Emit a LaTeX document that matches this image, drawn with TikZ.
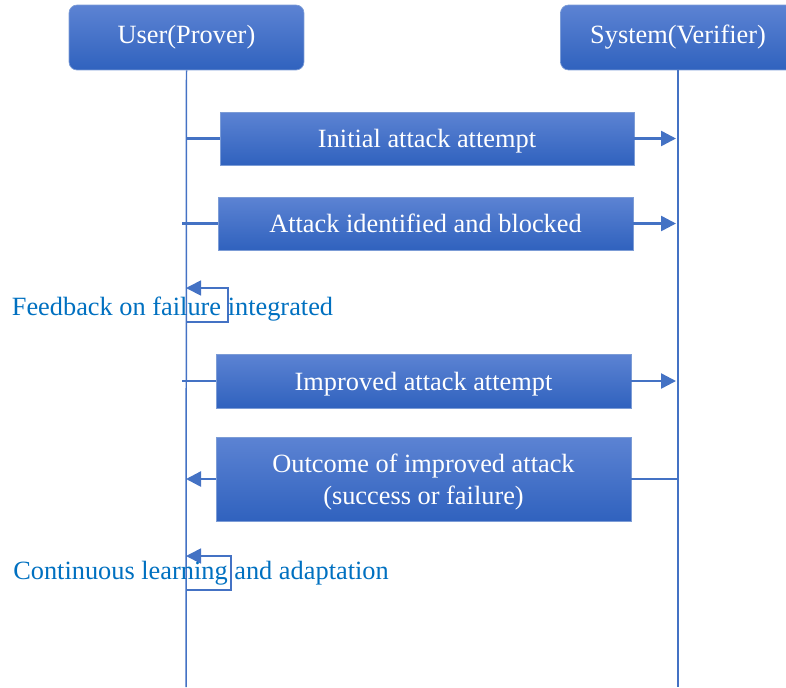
\documentclass[tikz,border=0pt]{standalone}
\usepackage{fontspec}
\setmainfont{Liberation Serif}
\usepackage{tikz}
\usetikzlibrary{arrows.meta,calc,positioning}
\usepackage{xcolor}
\definecolor{linkblue}{HTML}{4472C4}
\definecolor{boxtop}{HTML}{5C83D3}
\definecolor{boxbottom}{HTML}{3062BE}
\definecolor{notecolor}{HTML}{0070C0}
\tikzset{
  actor/.style={rounded corners=0.16cm,draw=linkblue!70,top color=boxtop,bottom color=boxbottom,
    text=white,minimum width=4.7cm,minimum height=1.3cm,font=\fontsize{15}{18}\selectfont},
  msgbox/.style={draw=linkblue!70,top color=boxtop,bottom color=boxbottom,text=white,
    minimum width=8.3cm,minimum height=1.07cm,align=center,font=\fontsize{15}{18}\selectfont,
    text height=12pt,text depth=1.2pt},
  lifeline/.style={linkblue,line width=0.85pt},
  msgline/.style={linkblue,line width=1.4pt},
  selfloop/.style={linkblue,line width=1pt},
  note/.style={text=notecolor,font=\fontsize{15}{18}\selectfont,inner sep=0pt,anchor=base}
}
\begin{document}
\begin{tikzpicture}[>={Triangle[width=0.3cm,length=0.3cm]},x=0.02cm,y=-0.02cm]
  \useasboundingbox (0,0) rectangle (786,687);
  \clip (0,0) rectangle (786,687);
  \node[actor] (user) at (186.5,37.5) {User(Prover)};
  \node[actor] (system) at (678,37.5) {System(Verifier)};
  \coordinate (userend) at (186,687);
  \coordinate (sysend) at (678,687);
  \draw[lifeline] (user.south) -- (userend);
  \draw[lifeline] (system.south) -- (sysend);

  \node[msgbox,minimum width=8.28cm,minimum height=1.06cm] (initial) at (427,138.5) {Initial attack attempt};
  \node[msgbox,minimum height=1.06cm] (blocked) at (425.5,223.5) {Attack identified and blocked};
  \node[msgbox,minimum height=1.08cm] (improved) at (423.5,381) {Improved attack attempt};
  \node[msgbox,minimum height=1.68cm,text height=,text depth=0pt] (outcome) at (423.5,479) {Outcome of improved attack\\(success or failure)};

  \draw[msgline] (initial.west -| userend) -- (initial.west);
  \draw[msgline,->] (initial.east) -- ($(initial.east -| sysend)+(-2,0)$);
  \draw[msgline] ($(blocked.west -| userend)+(-4,0)$) -- (blocked.west);
  \draw[msgline,->] (blocked.east) -- ($(blocked.east -| sysend)+(-2,0)$);
  \draw[msgline] ($(improved.west -| userend)+(-4,0)$) -- (improved.west);
  \draw[msgline,->] (improved.east) -- ($(improved.east -| sysend)+(-2,0)$);
  \draw[msgline] (outcome.east -| sysend) -- (outcome.east);
  \draw[msgline,->] (outcome.west) -- (outcome.west -| userend);

  \coordinate (fbout) at (186,322);
  \coordinate (fbin) at (186,288);
  \draw[selfloop,->] (fbout) -- ++(42,0) |- (fbin);
  \node[note] (feedback) at (172.5,315) {Feedback on failure integrated};

  \coordinate (learnout) at (186,590);
  \coordinate (learnin) at (186,556);
  \draw[selfloop,->] (learnout) -- ++(45,0) |- (learnin);
  \node[note] (learning) at (201,579) {Continuous learning and adaptation};
\end{tikzpicture}
\end{document}
